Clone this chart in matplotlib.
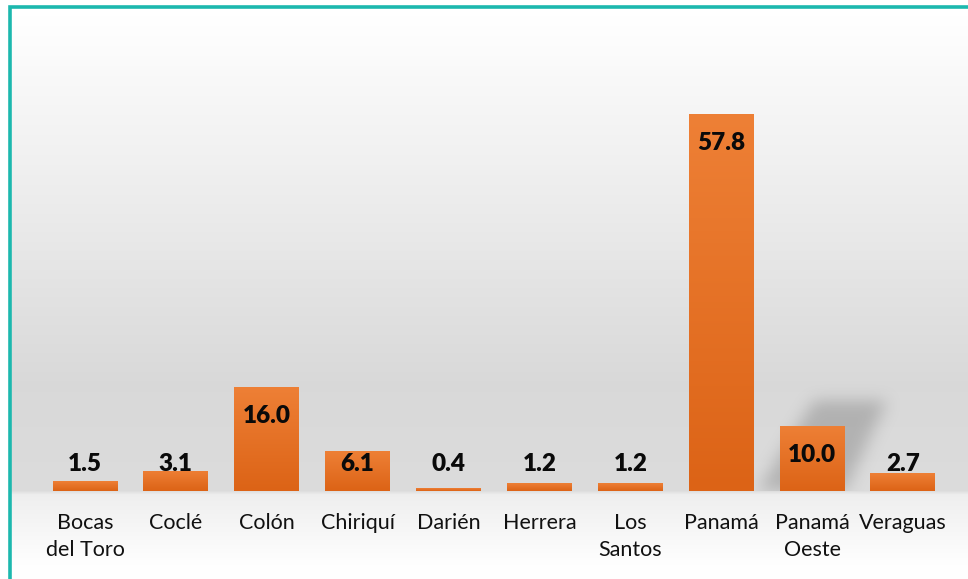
import numpy as np
import matplotlib
matplotlib.use("Agg")
import matplotlib.pyplot as plt
from matplotlib.colors import LinearSegmentedColormap
from matplotlib.path import Path
from matplotlib.lines import Line2D

# Data
provincias = ["Bocas\ndel Toro", "Coclé", "Colón", "Chiriquí", "Darién",
              "Herrera", "Los\nSantos", "Panamá", "Panamá\nOeste", "Veraguas"]
porcentajes = [1.5, 3.1, 16.0, 6.1, 0.4, 1.2, 1.2, 57.8, 10.0, 2.7]

W, H = 968, 579
fig = plt.figure(figsize=(W / 100, H / 100), dpi=100)
fig.patch.set_facecolor("white")

# background gradient (figure level, pixel coords)
bg = fig.add_axes([0, 0, 1, 1], zorder=0)
bg.set_xlim(0, W)
bg.set_ylim(H, 0)
bg.axis("off")
ys = np.arange(H)
stops_y = [0, 8, 200, 380, 489, 493, 560, 579]
stops_v = [1.0, 1.0, 0.925, 0.85, 0.862, 0.935, 0.995, 1.0]
grey = np.interp(ys, stops_y, stops_v)
img = np.repeat(grey[:, None], 4, axis=1)[:, :, None] * np.ones((1, 1, 3))
bg.imshow(img, extent=[11, W, H, 8], aspect="auto", interpolation="bilinear")
teal = "#1CB8AE"
bg.add_line(Line2D([10, 10, W], [H, 7, 7], color=teal, lw=2.6,
                   solid_joinstyle="miter"))

# main axes
ax = fig.add_axes([39.6 / W, (H - 491) / H, 908.8 / W, 471 / H], zorder=2)
ax.patch.set_alpha(0)
x = np.arange(len(provincias))
bars = ax.bar(x, porcentajes, width=0.715, color="#E6722A", zorder=3)

# soft shadow behind Panamá Oeste
i_sh = 8
v = porcentajes[i_sh]
poly = Path([(i_sh - 0.6, 0), (i_sh + 0.36, 0),
             (i_sh + 0.82, 1.38 * v), (i_sh + 0.02, 1.38 * v)])
gx = np.linspace(i_sh - 1.2, i_sh + 1.5, 300)
gy = np.linspace(-4, 1.38 * v + 8, 220)
GX, GY = np.meshgrid(gx, gy)
mask = poly.contains_points(np.c_[GX.ravel(), GY.ravel()]).reshape(GX.shape).astype(float)
k = np.ones(19) / 19
for _ in range(3):
    mask = np.apply_along_axis(lambda r: np.convolve(r, k, mode="same"), 1, mask)
    mask = np.apply_along_axis(lambda c: np.convolve(c, k, mode="same"), 0, mask)
mask[gy < 0, :] = 0
sh = np.zeros(mask.shape + (4,))
sh[..., :3] = 0.42
sh[..., 3] = mask * 0.36
ax.imshow(sh, extent=[gx[0], gx[-1], gy[0], gy[-1]], origin="lower",
          aspect="auto", zorder=2, interpolation="bilinear")

# gradient fill in bars
cmap = LinearSegmentedColormap.from_list("nar", ["#DC6316", "#EE8036"])
grad = np.linspace(0, 1, 256)[:, None]
for b in bars:
    bx, by = b.get_x(), b.get_y()
    bw, bh = b.get_width(), b.get_height()
    im = ax.imshow(grad, cmap=cmap, extent=[bx, bx + bw, by, by + bh],
                   origin="lower", aspect="auto", zorder=4)
    im.set_clip_path(b)
ax.set_xlim(-0.5, len(provincias) - 0.5)
ax.set_ylim(0, 72.2)

# value labels
for xi, val in zip(x, porcentajes):
    ax.text(xi, max(val - 4.45, 4.15), f"{val:.1f}", ha="center", va="center",
            fontsize=17.5, fontweight="heavy", family="Lato", color="#0a0a0a",
            zorder=6)

ax.set_xticks(x)
ax.set_xticklabels(provincias, fontsize=15.5, family="Lato", color="#111111",
                   linespacing=1.45)
ax.tick_params(axis="x", length=0, pad=16)
ax.set_yticks([])
for s in ax.spines.values():
    s.set_visible(False)

fig.savefig("out.png", dpi=100)
